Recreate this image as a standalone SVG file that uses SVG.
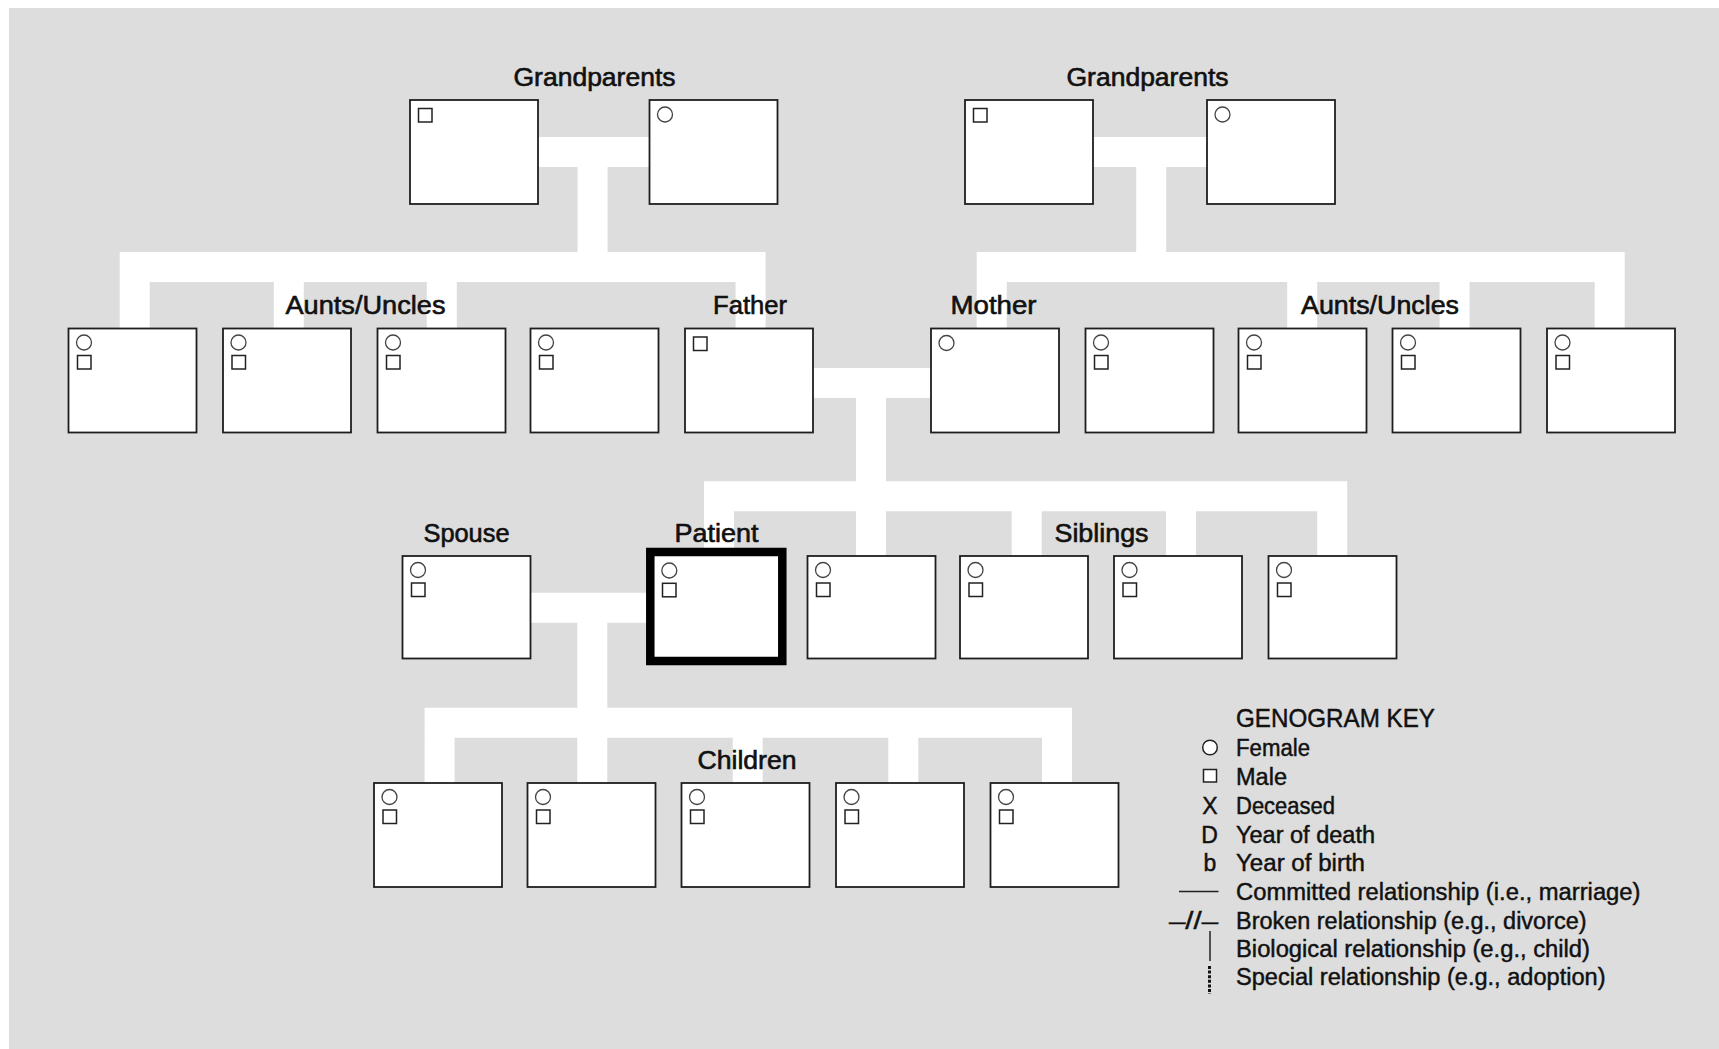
<svg xmlns="http://www.w3.org/2000/svg" width="1719" height="1049" viewBox="0 0 1719 1049">
<style>
.bg{fill:#dddddd}
.box{fill:#fff;stroke:#1e1e1e;stroke-width:1.8}
.pat{fill:#fff;stroke:#000;stroke-width:8.5}
.f{fill:#fff;stroke:#444;stroke-width:1.3}
.m{fill:#fff;stroke:#222;stroke-width:1.5}
.con{fill:none;stroke:#fff;stroke-width:30;stroke-linejoin:miter;stroke-linecap:butt}
.lbl{font-family:"Liberation Sans",Arial,sans-serif;font-size:25px;fill:#111;stroke:#111;stroke-width:0.6}
.key{font-family:"Liberation Sans",Arial,sans-serif;font-size:23px;fill:#111;stroke:#111;stroke-width:0.45}
.head{font-size:25px}
</style>
<defs>
<g id="fm"><circle class="f" cx="15.5" cy="14" r="7.5"/><rect class="m" x="9" y="27" width="13.5" height="13.5"/></g>
<g id="fonly"><circle class="f" cx="15.5" cy="14.5" r="7.5"/></g>
<g id="monly"><rect class="m" x="8.5" y="8.5" width="13.5" height="13.5"/></g>
</defs>
<rect class="bg" x="9" y="8" width="1710" height="1041"/>

<g id="connectors">
<path class="con" d="M500,152 H700 M592.6,152 V267 M134.7,330 V267 H750.6 V330 M288.8,267 V330 M441.8,267 V330"/>
<path class="con" d="M1050,152 H1250 M1151.2,152 V267 M991.7,330 V267 H1609.7 V330 M1302.2,267 V330 M1454.6,267 V330"/>
<path class="con" d="M780,383 H960 M871,383 V558 M719,558 V496.3 H1332.2 V558 M1026.7,496.3 V558 M1181,496.3 V558"/>
<path class="con" d="M500,607.8 H680 M592.3,607.8 V785 M439.6,785 V722.8 H1057 V785 M747.7,722.8 V785 M903.3,722.8 V785"/>
</g>

<g id="gp-l-m"><rect class="box" x="410" y="100" width="128" height="104"/><use href="#monly" x="410" y="100"/></g>
<g id="gp-l-f"><rect class="box" x="649.5" y="100" width="128" height="104"/><use href="#fonly" x="649.5" y="100"/></g>
<g id="gp-r-m"><rect class="box" x="965" y="100" width="128" height="104"/><use href="#monly" x="965" y="100"/></g>
<g id="gp-r-f"><rect class="box" x="1207" y="100" width="128" height="104"/><use href="#fonly" x="1207" y="100"/></g>

<g id="au-l1"><rect class="box" x="68.5" y="328.5" width="128" height="104"/><use href="#fm" x="68.5" y="328.5"/></g>
<g id="au-l2"><rect class="box" x="223" y="328.5" width="128" height="104"/><use href="#fm" x="223" y="328.5"/></g>
<g id="au-l3"><rect class="box" x="377.5" y="328.5" width="128" height="104"/><use href="#fm" x="377.5" y="328.5"/></g>
<g id="au-l4"><rect class="box" x="530.5" y="328.5" width="128" height="104"/><use href="#fm" x="530.5" y="328.5"/></g>
<g id="father"><rect class="box" x="685" y="328.5" width="128" height="104"/><use href="#monly" x="685" y="328.5"/></g>
<g id="mother"><rect class="box" x="931" y="328.5" width="128" height="104"/><use href="#fonly" x="931" y="328.5"/></g>
<g id="au-r1"><rect class="box" x="1085.5" y="328.5" width="128" height="104"/><use href="#fm" x="1085.5" y="328.5"/></g>
<g id="au-r2"><rect class="box" x="1238.5" y="328.5" width="128" height="104"/><use href="#fm" x="1238.5" y="328.5"/></g>
<g id="au-r3"><rect class="box" x="1392.5" y="328.5" width="128" height="104"/><use href="#fm" x="1392.5" y="328.5"/></g>
<g id="au-r4"><rect class="box" x="1547" y="328.5" width="128" height="104"/><use href="#fm" x="1547" y="328.5"/></g>

<g id="spouse"><rect class="box" x="402.5" y="556" width="128" height="102.5"/><use href="#fm" x="402.5" y="556"/></g>
<g id="patient"><rect class="pat" x="650.3" y="552" width="132" height="109"/><circle class="f" cx="669.3" cy="570.5" r="7.5"/><rect class="m" x="662.5" y="583.3" width="13.5" height="13.5"/></g>
<g id="sib1"><rect class="box" x="807.5" y="556" width="128" height="102.5"/><use href="#fm" x="807.5" y="556"/></g>
<g id="sib2"><rect class="box" x="960" y="556" width="128" height="102.5"/><use href="#fm" x="960" y="556"/></g>
<g id="sib3"><rect class="box" x="1114" y="556" width="128" height="102.5"/><use href="#fm" x="1114" y="556"/></g>
<g id="sib4"><rect class="box" x="1268.5" y="556" width="128" height="102.5"/><use href="#fm" x="1268.5" y="556"/></g>

<g id="child1"><rect class="box" x="374" y="783" width="128" height="104"/><use href="#fm" x="374" y="783"/></g>
<g id="child2"><rect class="box" x="527.5" y="783" width="128" height="104"/><use href="#fm" x="527.5" y="783"/></g>
<g id="child3"><rect class="box" x="681.5" y="783" width="128" height="104"/><use href="#fm" x="681.5" y="783"/></g>
<g id="child4"><rect class="box" x="836" y="783" width="128" height="104"/><use href="#fm" x="836" y="783"/></g>
<g id="child5"><rect class="box" x="990.5" y="783" width="128" height="104"/><use href="#fm" x="990.5" y="783"/></g>

<g id="labels">
<text class="lbl" x="513.5" y="86" textLength="162" lengthAdjust="spacingAndGlyphs">Grandparents</text>
<text class="lbl" x="1066.5" y="86" textLength="162" lengthAdjust="spacingAndGlyphs">Grandparents</text>
<text class="lbl" x="285.5" y="314" textLength="160" lengthAdjust="spacingAndGlyphs">Aunts/Uncles</text>
<text class="lbl" x="713" y="314" textLength="74" lengthAdjust="spacingAndGlyphs">Father</text>
<text class="lbl" x="950.5" y="314" textLength="86" lengthAdjust="spacingAndGlyphs">Mother</text>
<text class="lbl" x="1301" y="314" textLength="158" lengthAdjust="spacingAndGlyphs">Aunts/Uncles</text>
<text class="lbl" x="423.5" y="541.5" textLength="86" lengthAdjust="spacingAndGlyphs">Spouse</text>
<text class="lbl" x="674.5" y="541.5" textLength="84" lengthAdjust="spacingAndGlyphs">Patient</text>
<text class="lbl" x="1054.5" y="541.5" textLength="94" lengthAdjust="spacingAndGlyphs">Siblings</text>
<text class="lbl" x="697.5" y="769" textLength="99" lengthAdjust="spacingAndGlyphs">Children</text>
</g>

<g id="legend">
<text class="key head" x="1236" y="726.5" textLength="199" lengthAdjust="spacingAndGlyphs">GENOGRAM KEY</text>
<circle cx="1210" cy="747.5" r="7.3" fill="#fff" stroke="#222" stroke-width="1.5"/>
<text class="key" x="1236" y="756" textLength="74" lengthAdjust="spacingAndGlyphs">Female</text>
<rect x="1203.5" y="769.5" width="13" height="12.5" fill="#fff" stroke="#222" stroke-width="1.5"/>
<text class="key" x="1236" y="784.5" textLength="51" lengthAdjust="spacingAndGlyphs">Male</text>
<text class="key" x="1210" y="813.5" text-anchor="middle">X</text>
<text class="key" x="1236" y="813.5" textLength="99" lengthAdjust="spacingAndGlyphs">Deceased</text>
<text class="key" x="1209.5" y="842.5" text-anchor="middle">D</text>
<text class="key" x="1236" y="842.5" textLength="139" lengthAdjust="spacingAndGlyphs">Year of death</text>
<text class="key" x="1210" y="870.5" text-anchor="middle">b</text>
<text class="key" x="1236" y="870.5" textLength="129" lengthAdjust="spacingAndGlyphs">Year of birth</text>
<line x1="1179" y1="891.5" x2="1218.5" y2="891.5" stroke="#222" stroke-width="1.5"/>
<text class="key" x="1236" y="899.5" textLength="404.5" lengthAdjust="spacingAndGlyphs">Committed relationship (i.e., marriage)</text>
<text class="key" x="1169" y="928.5" textLength="49" lengthAdjust="spacingAndGlyphs">–//–</text>
<text class="key" x="1236" y="928.5" textLength="350.5" lengthAdjust="spacingAndGlyphs">Broken relationship (e.g., divorce)</text>
<line x1="1210" y1="931" x2="1210" y2="961" stroke="#222" stroke-width="1.5"/>
<text class="key" x="1236" y="956.5" textLength="354" lengthAdjust="spacingAndGlyphs">Biological relationship (e.g., child)</text>
<line x1="1209.5" y1="966" x2="1209.5" y2="994" stroke="#111" stroke-width="3" stroke-dasharray="3 1.6"/>
<text class="key" x="1236" y="985" textLength="369.5" lengthAdjust="spacingAndGlyphs">Special relationship (e.g., adoption)</text>
</g>
</svg>
